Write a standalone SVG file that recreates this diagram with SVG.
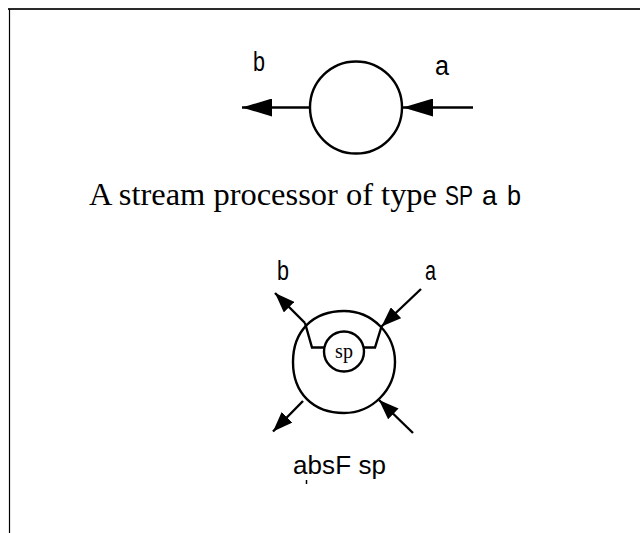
<svg xmlns="http://www.w3.org/2000/svg" width="640" height="533" viewBox="0 0 640 533">
<style>
.ln{fill:none;stroke:#000;stroke-width:2.4}
.nar{font-family:"Liberation Sans Narrow","Arial Narrow","Liberation Sans",sans-serif;fill:#000}
.ser{font-family:"Liberation Serif","Times New Roman",serif;fill:#000}
</style>
<defs>
<marker id="big" viewBox="0 -9 30 18" refX="30" refY="0" markerWidth="30" markerHeight="18" markerUnits="userSpaceOnUse" orient="auto"><path d="M0,-9 L30,0 L0,9 z" fill="#000"/></marker>
<marker id="sm" viewBox="0 -7.5 20 15" refX="20" refY="0" markerWidth="20" markerHeight="15" markerUnits="userSpaceOnUse" orient="auto"><path d="M0,-7.5 L20,0 L0,7.5 z" fill="#000"/></marker>
</defs>
<rect width="640" height="533" fill="#fff"/>
<g id="frame">
<line x1="8" y1="9" x2="640" y2="9" stroke="#2a2a2a" stroke-width="2"/>
<line x1="9.5" y1="9" x2="9.5" y2="533" stroke="#000" stroke-width="1.2"/>
<line x1="306.5" y1="480" x2="306.5" y2="484" stroke="#000" stroke-width="1.5"/>
</g>
<g id="sp1">
<circle class="ln" cx="356" cy="107.5" r="46"/>
</g>
<g id="absF">
<path class="ln" d="M344,311 C372,311 395,334 395,362 C395,390 372,413 344,413 C313,413 293,393 293,362 C293,331 313,311 344,311 z"/>
</g>
<g id="sp2">
<circle class="ln" cx="344" cy="351.5" r="20"/>
<text class="ser" x="344" y="358" font-size="20" text-anchor="middle">sp</text>
</g>
<g id="connectors">
<line class="ln" x1="310" y1="107.5" x2="242" y2="107.5" marker-end="url(#big)"/>
<line class="ln" x1="473" y1="107.5" x2="403" y2="107.5" marker-end="url(#big)"/>
<polyline class="ln" points="324,347.5 312,347.5 305,323"/>
<line class="ln" x1="305" y1="323" x2="275" y2="293" marker-end="url(#sm)"/>
<polyline class="ln" points="381.5,326.5 375,347.5 364,347.5"/>
<line class="ln" x1="421" y1="289" x2="381.5" y2="326.5" marker-end="url(#sm)"/>
<line class="ln" x1="303" y1="401" x2="273" y2="431.5" marker-end="url(#sm)"/>
<line class="ln" x1="413" y1="433" x2="379" y2="400" marker-end="url(#sm)"/>
</g>
<g id="labels">
<text class="nar" x="253" y="70.5" font-size="27" textLength="12" lengthAdjust="spacingAndGlyphs">b</text>
<text class="nar" x="435" y="75" font-size="27" textLength="14" lengthAdjust="spacingAndGlyphs">a</text>
<text y="205" font-size="31"><tspan class="ser" x="89" textLength="348" lengthAdjust="spacingAndGlyphs">A stream processor of type</tspan><tspan class="nar" x="445" font-size="28" textLength="28" lengthAdjust="spacingAndGlyphs">SP</tspan><tspan class="nar" x="482" font-size="28" textLength="15" lengthAdjust="spacingAndGlyphs">a</tspan><tspan class="nar" x="507" font-size="28" textLength="14" lengthAdjust="spacingAndGlyphs">b</tspan></text>
<text class="nar" x="277" y="280" font-size="27" textLength="12" lengthAdjust="spacingAndGlyphs">b</text>
<text class="nar" x="425" y="280" font-size="27" textLength="11" lengthAdjust="spacingAndGlyphs">a</text>
<text class="nar" x="293" y="473.5" font-size="26" textLength="93" lengthAdjust="spacing">absF sp</text>
</g>
</svg>
